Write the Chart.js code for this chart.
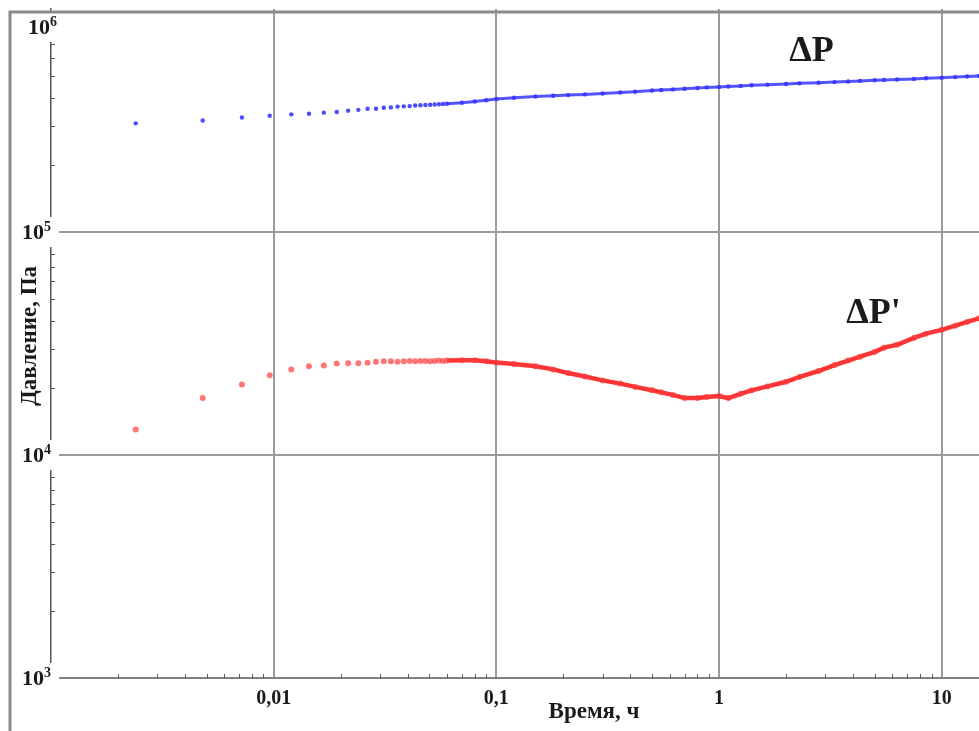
<!DOCTYPE html>
<html>
<head>
<meta charset="utf-8">
<script src="https://cdn.jsdelivr.net/npm/chart.js@4.4.1/dist/chart.umd.min.js"></script>
<style>
  body { margin: 0; background: #fff; }
  canvas { display: block; }
</style>
</head>
<body>
<canvas id="chart" width="979" height="731"></canvas>
<script>
// time, hours (shared by both curves)
const timeH = [0.0024, 0.0048, 0.0072, 0.0096, 0.012, 0.0144, 0.0168, 0.0192, 0.0216, 0.024,
  0.0264, 0.0288, 0.0312, 0.0336, 0.036, 0.0384, 0.0408, 0.0432, 0.0456, 0.048,
  0.0504, 0.0528, 0.0552, 0.0576, 0.06,
  0.07, 0.08, 0.09, 0.1, 0.12, 0.15, 0.18, 0.21, 0.25, 0.3,
  0.36, 0.42, 0.5, 0.55, 0.62, 0.7, 0.8, 0.88, 1.0, 1.1,
  1.25, 1.4, 1.65, 2.0, 2.3, 2.8, 3.3, 3.8, 4.3, 5.0,
  5.5, 6.3, 7.5, 8.5, 10, 11.5, 13, 14.7];

// pressure change dP, Pa (blue)
const dP = [3.07e5, 3.16e5, 3.26e5, 3.32e5, 3.37e5, 3.39e5, 3.43e5, 3.45e5, 3.50e5, 3.53e5,
  3.57e5, 3.57e5, 3.61e5, 3.62e5, 3.65e5, 3.66e5, 3.67e5, 3.69e5, 3.70e5, 3.71e5,
  3.72e5, 3.73e5, 3.74e5, 3.75e5, 3.76e5,
  3.80e5, 3.85e5, 3.90e5, 3.95e5, 4.00e5, 4.05e5, 4.08e5, 4.11e5, 4.14e5, 4.18e5,
  4.22e5, 4.26e5, 4.31e5, 4.33e5, 4.36e5, 4.39e5, 4.42e5, 4.45e5, 4.47e5, 4.49e5,
  4.52e5, 4.55e5, 4.58e5, 4.61e5, 4.64e5, 4.67e5, 4.70e5, 4.73e5, 4.76e5, 4.79e5,
  4.81e5, 4.83e5, 4.86e5, 4.89e5, 4.92e5, 4.95e5, 4.98e5, 5.01e5];

// derivative dP', Pa (red)
const dPder = [1.30e4, 1.80e4, 2.07e4, 2.28e4, 2.42e4, 2.50e4, 2.52e4, 2.57e4, 2.58e4, 2.58e4,
  2.59e4, 2.62e4, 2.63e4, 2.63e4, 2.62e4, 2.63e4, 2.64e4, 2.63e4, 2.64e4, 2.64e4,
  2.63e4, 2.64e4, 2.65e4, 2.64e4, 2.65e4,
  2.66e4, 2.66e4, 2.63e4, 2.60e4, 2.56e4, 2.50e4, 2.42e4, 2.33e4, 2.25e4, 2.16e4,
  2.09e4, 2.02e4, 1.95e4, 1.91e4, 1.86e4, 1.80e4, 1.80e4, 1.82e4, 1.84e4, 1.80e4,
  1.88e4, 1.95e4, 2.03e4, 2.13e4, 2.24e4, 2.38e4, 2.53e4, 2.65e4, 2.76e4, 2.90e4,
  3.03e4, 3.12e4, 3.35e4, 3.50e4, 3.64e4, 3.80e4, 3.95e4, 4.10e4];

const xTickValues = [0.01, 0.1, 1, 10];
const xTickText = ['0,01', '0,1', '1', '10'];
const yTickValues = [1e3, 1e4, 1e5, 1e6];
const yTickExp = ['3', '4', '5', '6'];
const yGridValues = [1e4, 1e5];

// from here on the samples are so close that they merge into a line
const denseFrom = 0.059;

const FONT = 'Liberation Serif, Times New Roman, serif';

const decor = {
  id: 'decor',
  afterDraw(chart) {
    const { ctx, chartArea: a, scales: { x, y } } = chart;
    ctx.save();

    // small ticks pointing into the plot
    ctx.strokeStyle = '#555';
    ctx.lineWidth = 1;
    for (let e = -3; e <= 1; e++) {
      for (let k = 2; k <= 9; k++) {
        const v = k * Math.pow(10, e);
        if (v > x.max) continue;
        const px = Math.round(x.getPixelForValue(v)) + 0.5;
        ctx.beginPath(); ctx.moveTo(px, a.bottom); ctx.lineTo(px, a.bottom - 4); ctx.stroke();
      }
    }
    for (let e = 3; e <= 5; e++) {
      for (let k = 2; k <= 9; k++) {
        const py = Math.round(y.getPixelForValue(k * Math.pow(10, e))) + 0.5;
        ctx.beginPath(); ctx.moveTo(a.left, py); ctx.lineTo(a.left + 4, py); ctx.stroke();
      }
    }

    // y tick labels 10^n on white boxes
    yTickValues.forEach((v, i) => {
      const top = i === yTickValues.length - 1;
      const py = Math.max(y.getPixelForValue(v), a.top + 18);
      ctx.font = 'bold 14px ' + FONT;
      const wExp = ctx.measureText(yTickExp[i]).width;
      ctx.font = 'bold 22px ' + FONT;
      const w10 = ctx.measureText('10').width;
      const right = a.left + (top ? 6 : 0);
      ctx.fillStyle = '#fff';
      ctx.fillRect(14, py - 15, a.left + 8 - 14, 30);
      ctx.fillStyle = '#1a1a1a';
      ctx.textBaseline = 'middle';
      ctx.textAlign = 'left';
      ctx.fillText('10', right - wExp - w10, py + 1);
      ctx.font = 'bold 14px ' + FONT;
      ctx.textBaseline = 'alphabetic';
      ctx.fillText(yTickExp[i], right - wExp, py - 1);
    });

    // frame of the picture
    ctx.strokeStyle = '#8a8a8a';
    ctx.lineWidth = 3;
    ctx.beginPath();
    ctx.moveTo(10, chart.height);
    ctx.lineTo(10, 12);
    ctx.lineTo(chart.width, 12);
    ctx.stroke();

    // axis titles
    ctx.fillStyle = '#1a1a1a';
    ctx.textAlign = 'center';
    ctx.textBaseline = 'middle';
    ctx.font = 'bold 23px ' + FONT;
    ctx.fillText('Время, ч', 594, 712);
    ctx.save();
    ctx.translate(30, 336);
    ctx.rotate(-Math.PI / 2);
    ctx.fillText('Давление, Па', 0, 0);
    ctx.restore();

    // curve names
    ctx.font = 'bold 36px ' + FONT;
    ctx.fillText('ΔP', x.getPixelForValue(2.6), y.getPixelForValue(6.45e5));
    ctx.fillText('ΔP\'', x.getPixelForValue(4.94), y.getPixelForValue(4.3e4));

    ctx.restore();
  }
};

function series(values) {
  return timeH.map((t, i) => ({ x: t, y: values[i] }));
}

new Chart(document.getElementById('chart'), {
  type: 'scatter',
  data: {
    datasets: [
      {
        label: 'ΔP',
        data: series(dP),
        pointRadius: 2.2,
        pointBorderWidth: 0,
        pointBackgroundColor: 'rgba(55, 55, 255, 0.9)',
        showLine: true,
        borderWidth: 3,
        segment: { borderColor: c => c.p0.parsed.x >= denseFrom ? 'rgba(55, 55, 255, 0.85)' : 'rgba(0,0,0,0)' }
      },
      {
        label: 'ΔP\'',
        data: series(dPder),
        pointRadius: 3,
        pointBorderWidth: 0,
        pointBackgroundColor: 'rgba(255, 60, 60, 0.7)',
        showLine: true,
        borderWidth: 4.5,
        segment: { borderColor: c => c.p0.parsed.x >= denseFrom ? 'rgba(255, 25, 25, 0.88)' : 'rgba(0,0,0,0)' }
      }
    ]
  },
  options: {
    responsive: false,
    animation: false,
    layout: { autoPadding: false, padding: { top: 9, left: 0, right: 0, bottom: 0 } },
    plugins: { legend: { display: false }, tooltip: { enabled: false } },
    scales: {
      x: {
        type: 'logarithmic',
        min: 0.001,
        max: 14.7,
        afterBuildTicks: s => { s.ticks = xTickValues.map(v => ({ value: v })); },
        afterFit: s => { s.height = 53; },
        grid: { color: '#9a9a9a', lineWidth: 2, drawTicks: false },
        border: { color: '#808080', width: 2 },
        ticks: {
          autoSkip: false,
          maxRotation: 0,
          padding: 9,
          color: '#1a1a1a',
          font: { family: FONT, size: 20, weight: 'bold' },
          callback: v => xTickText[xTickValues.indexOf(v)] ?? ''
        }
      },
      y: {
        type: 'logarithmic',
        min: 1e3,
        max: 1e6,
        afterBuildTicks: s => { s.ticks = yGridValues.map(v => ({ value: v })); },
        afterFit: s => { s.width = 51; },
        grid: { color: '#9a9a9a', lineWidth: 2, drawTicks: false },
        border: { color: '#555', width: 1.5 },
        ticks: { display: false }
      }
    }
  },
  plugins: [decor]
});
</script>
</body>
</html>
